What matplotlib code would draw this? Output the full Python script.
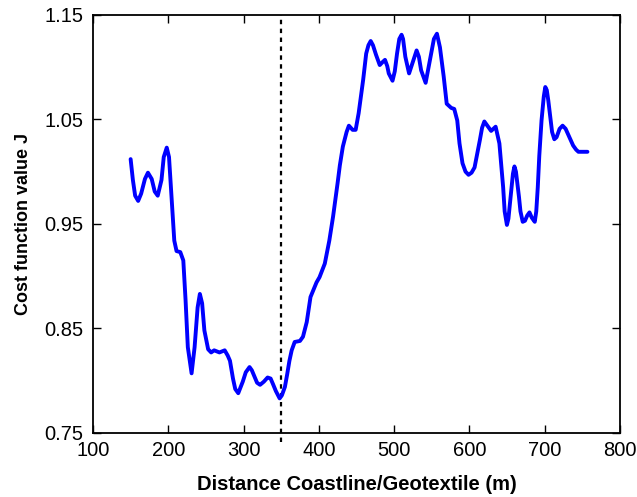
import matplotlib.pyplot as plt

# distance coastline/geotextile (m) and cost function value J
distance = [150, 153, 156, 160, 164, 169, 173, 178, 182, 186, 191, 194, 198, 201, 204,
            208, 211, 216, 220, 223, 226, 231, 235, 239, 242, 245, 248, 253, 257, 261,
            268, 275, 279, 282, 286, 289, 293, 299, 303, 308, 311, 315, 318, 322, 327,
            332, 336, 339, 343, 348, 351, 355, 358, 361, 364, 368, 375, 379, 384, 389,
            397, 401, 408, 414, 419, 425, 428, 432, 437, 440, 445, 449, 453, 459, 463,
            466, 469, 472, 476, 481, 485, 488, 491, 493, 498, 501, 504, 507, 510, 512,
            515, 520, 525, 530, 533, 536, 542, 547, 553, 557, 561, 566, 570, 576, 580,
            584, 587, 591, 595, 599, 603, 607, 614, 617, 620, 624, 629, 632, 635, 640,
            642, 645, 647, 650, 652, 655, 658, 660, 662, 666, 668, 671, 674, 677, 680,
            683, 687, 689, 691, 693, 696, 699, 701, 703, 705, 707, 710, 713, 716, 720,
            724, 728, 733, 738, 742, 745, 749, 757]
cost = [1.012, 0.992, 0.977, 0.972, 0.979, 0.993, 0.999, 0.993, 0.981, 0.977, 0.992,
        1.014, 1.023, 1.014, 0.979, 0.934, 0.924, 0.923, 0.915, 0.877, 0.832, 0.807,
        0.832, 0.870, 0.883, 0.874, 0.848, 0.830, 0.827, 0.829, 0.827, 0.829, 0.824,
        0.819, 0.802, 0.792, 0.788, 0.799, 0.808, 0.813, 0.810, 0.803, 0.798, 0.796,
        0.799, 0.803, 0.802, 0.797, 0.790, 0.783, 0.786, 0.794, 0.806, 0.819, 0.829,
        0.837, 0.838, 0.842, 0.856, 0.880, 0.894, 0.899, 0.912, 0.934, 0.957, 0.989,
        1.006, 1.024, 1.038, 1.044, 1.040, 1.040, 1.056, 1.088, 1.113, 1.121, 1.125,
        1.121, 1.112, 1.102, 1.105, 1.107, 1.101, 1.094, 1.087, 1.096, 1.113, 1.127,
        1.131, 1.127, 1.110, 1.094, 1.105, 1.116, 1.110, 1.097, 1.085, 1.104, 1.127,
        1.132, 1.119, 1.091, 1.065, 1.061, 1.060, 1.049, 1.027, 1.008, 1.000, 0.997,
        0.999, 1.004, 1.030, 1.042, 1.048, 1.044, 1.039, 1.041, 1.043, 1.027, 1.010,
        0.985, 0.962, 0.949, 0.955, 0.976, 0.998, 1.005, 1.000, 0.976, 0.962, 0.952,
        0.953, 0.958, 0.961, 0.956, 0.952, 0.962, 0.985, 1.015, 1.049, 1.072, 1.081,
        1.078, 1.068, 1.056, 1.038, 1.031, 1.033, 1.041, 1.044, 1.041, 1.033, 1.025,
        1.021, 1.019, 1.019, 1.019]
marker_x = 350
xticks = [100, 200, 300, 400, 500, 600, 700, 800]
yticks = [0.75, 0.85, 0.95, 1.05, 1.15]

plt.rcParams['font.family'] = ['Liberation Sans', 'DejaVu Sans']

fig = plt.figure(figsize=(6.37, 4.97), dpi=100)
ax = fig.add_axes([0.146, 0.129, 0.827, 0.841])

ax.plot(distance, cost, color='#0000ff', lw=2.8, solid_joinstyle='round',
        solid_capstyle='round', zorder=3)
ax.vlines(marker_x, 0.741, 1.15, colors='black', linestyles=(0, (2, 2)), lw=1.6,
          clip_on=False, zorder=2)

ax.set_xlim(100, 800)
ax.set_ylim(0.75, 1.15)
ax.set_xticks(xticks)
ax.set_yticks(yticks)
ax.set_yticklabels(['%.2f' % v for v in yticks])
ax.tick_params(direction='in', top=True, right=True, length=6, width=1, labelsize=14.5)
ax.tick_params(axis='x', pad=6)
ax.tick_params(axis='y', pad=7)
for s in ax.spines.values():
    s.set_linewidth(1.3)

ax.set_xlabel('Distance Coastline/Geotextile (m)', fontsize=14.5, fontweight='bold', labelpad=11)
ax.set_ylabel('Cost function value J', fontsize=13, fontweight='bold', labelpad=9)

fig.savefig('out.png', dpi=100)
